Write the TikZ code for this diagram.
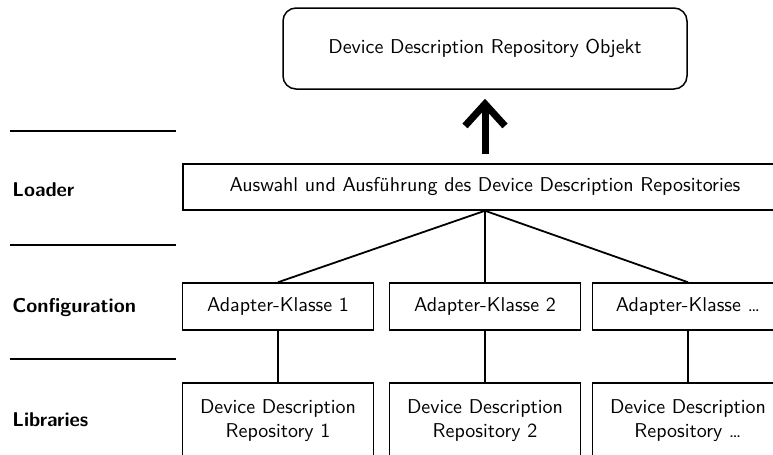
\documentclass[tikz,border=0pt]{standalone}
\usepackage{fontspec}
\usetikzlibrary{arrows.meta}
\begin{document}
\begin{tikzpicture}[x=0.5pt, y=-0.5pt,
  every node/.style={font=\sffamily},
  box/.style={draw, line width=0.75pt, inner sep=0pt, align=center},
  topbox/.style={box, rounded corners=6.5pt, minimum width=202pt, minimum height=40.5pt},
  loaderbox/.style={box, minimum width=302pt, minimum height=23pt},
  adapterbox/.style={box, minimum width=95.5pt, minimum height=23.5pt},
  libbox/.style={box, minimum width=95.5pt, minimum height=38pt},
  layerlabel/.style={anchor=base west, inner sep=0pt, font=\sffamily\bfseries},
  separator/.style={line width=1.35pt},
  link/.style={line width=0.9pt},
  bigarrow/.style={line width=3.5pt, -{Straight Barb[length=11pt, width=20pt]}}
]
\useasboundingbox (0,0) rectangle (773,455);
\clip (0,0) rectangle (773,455);

% layer separators on the left
\coordinate (s1a) at (10,131); \coordinate (s1b) at (176,131);
\coordinate (s2a) at (10,245); \coordinate (s2b) at (176,245);
\coordinate (s3a) at (10,359); \coordinate (s3b) at (176,359);
\draw[separator] (s1a) -- (s1b);
\draw[separator] (s2a) -- (s2b);
\draw[separator] (s3a) -- (s3b);

% layer names
\node[layerlabel] (lLoader) at (12,196) {Loader};
\node[layerlabel] (lConf) at (12,312.7) {Configuration};
\node[layerlabel] (lLib) at (12,426.7) {Libraries};

% result object
\node[topbox] (obj) at (485,48.5) {Device Description Repository Objekt};

% loader
\node[loaderbox] (loader) at (485,187) {Auswahl und Ausführung des Device Description Repositories};

% adapter classes
\node[adapterbox] (a1) at (278,306.5) {Adapter-Klasse 1};
\node[adapterbox] (a2) at (485,306.5) {Adapter-Klasse 2};
\node[adapterbox] (a3) at (688,306.5) {Adapter-Klasse \dots};

% repositories
\node[libbox] (r1) at (278,421) {Device Description\\Repository 1};
\node[libbox] (r2) at (485,421) {Device Description\\Repository 2};
\node[libbox] (r3) at (688,421) {Device Description\\Repository \dots};

% connections
\draw[bigarrow, shorten <=4.5pt, shorten >=4.5pt] (loader.north) -- (obj.south);
\draw[link] (loader.south) -- (a1.north);
\draw[link] (loader.south) -- (a2.north);
\draw[link] (loader.south) -- (a3.north);
\draw[link] (a1.south) -- (r1.north);
\draw[link] (a2.south) -- (r2.north);
\draw[link] (a3.south) -- (r3.north);
\end{tikzpicture}
\end{document}
